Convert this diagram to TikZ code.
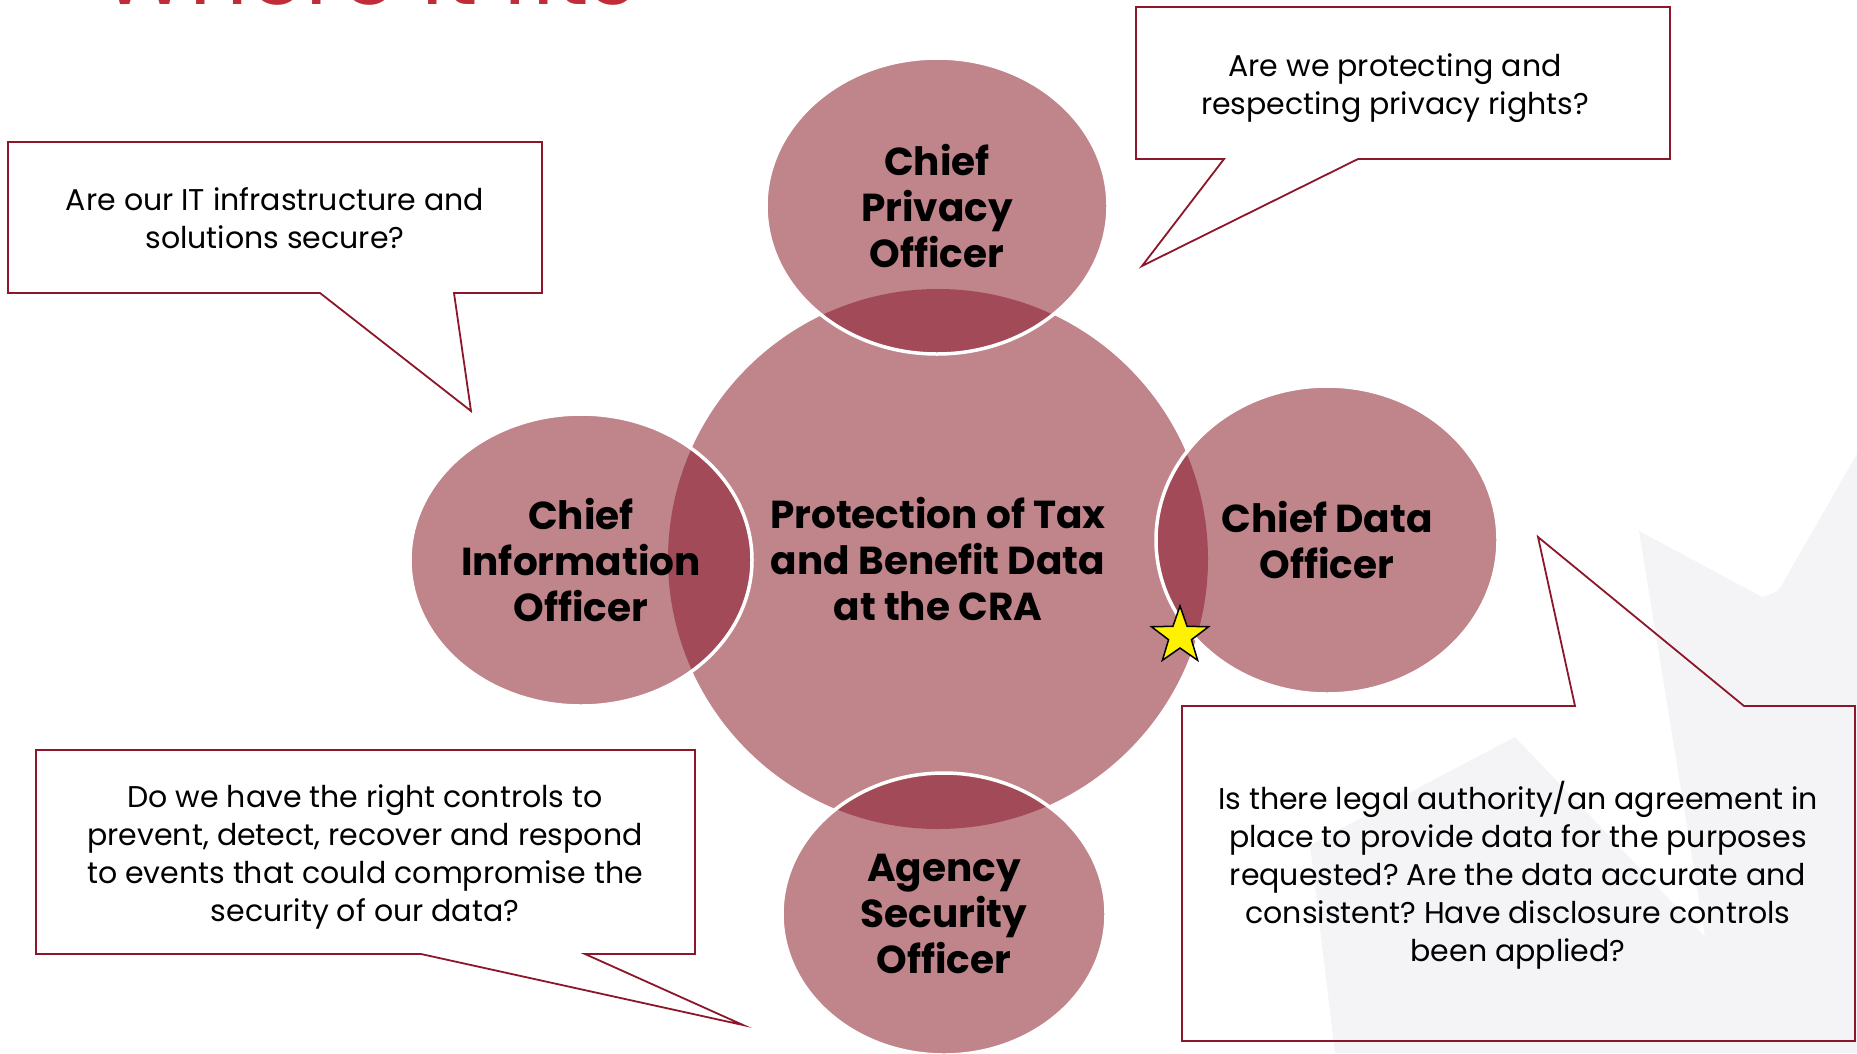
\documentclass[tikz,border=0pt]{standalone}
\usepackage{fontspec}
\setmainfont{Poppins}
\frenchspacing
\usetikzlibrary{shapes.geometric, positioning}

\definecolor{rose}{RGB}{192,132,139}
\definecolor{overlap}{RGB}{162,74,87}
\definecolor{crimson}{RGB}{140,22,42}
\definecolor{titlered}{RGB}{192,44,56}
\definecolor{leafgrey}{RGB}{244,244,247}

\tikzset{
    hub/.style={circle, fill=rose, minimum size=540pt, inner sep=0pt, align=center,
        font=\fontsize{39}{46}\selectfont\bfseries},
    role/.style={ellipse, fill=rose, draw=white, line width=3.5pt, inner sep=0pt, align=center,
        font=\fontsize{39}{46}\selectfont\bfseries,
        path picture={\fill[overlap] (cra.center) circle [radius=270];}},
    flag/.style={star, star points=5, star point ratio=2.5, minimum size=60pt, inner sep=0pt,
        fill=yellow, draw=black, line width=1.5pt},
    callout/.style={draw=crimson, line width=1.8pt},
    question/.style={align=center, inner sep=0pt, font=\fontsize{30}{38}\selectfont},
}

\begin{document}
\begin{tikzpicture}[x=1pt, y=-1pt]
    \path[use as bounding box, fill=white] (0,0) rectangle (1857,1053);

    % faint maple leaf behind the right hand side
    \fill[leafgrey] (1857,454) -- (1780,588) to[out=-135, in=15] (1762,597)
        -- (1639,531) -- (1705,937) -- (1515,737) -- (1310,845) -- (1335,1053)
        -- (1857,1053) -- cycle;

    \node[anchor=base west, inner sep=0pt, text=titlered,
          font=\fontsize{92}{92}\selectfont] (heading) at (100,4) {Where it fits};

    % the data in the middle and the four officers round it
    \node[hub] (cra) at (938,559) {Protection of Tax\\and Benefit Data\\at the CRA};
    \node[role, minimum width=342pt, minimum height=296pt] (cpo) at (937,206) {Chief\\Privacy\\Officer};
    \node[role, minimum width=342pt, minimum height=292pt] (cio) at (581,560) {Chief\\Information\\Officer};
    \node[role, minimum width=342pt, minimum height=308pt] (cdo) at (1327,540) {Chief Data\\Officer};
    \node[role, minimum width=324pt, minimum height=282pt] (aso) at (944,914) {Agency\\Security\\Officer};

    \node[flag] (mark) at (1180,636) {};

    % speech bubbles
    \draw[callout] (8,142) -- (542,142) -- (542,293) -- (454,293) -- (471,411)
        -- (320,293) -- (8,293) -- cycle;
    \node[question] (q-cio) at (275,218) {Are our IT infrastructure and\\solutions secure?};

    \draw[callout] (1136,7) -- (1670,7) -- (1670,159) -- (1358,159) -- (1142,266)
        -- (1224,159) -- (1136,159) -- cycle;
    \node[question] (q-cpo) at (1395,88) {Are we protecting and\\respecting privacy rights?};

    \draw[callout] (36,750) -- (695,750) -- (695,954) -- (585,954) -- (743,1025)
        -- (421,954) -- (36,954) -- cycle;
    \node[question] (q-aso) at (365,857) {Do we have the right controls to\\prevent, detect, recover and respond\\to events that could compromise the\\security of our data?};

    \draw[callout] (1182,706) -- (1575,706) -- (1538,537) -- (1744,706) -- (1855,706)
        -- (1855,1041) -- (1182,1041) -- cycle;
    \node[question] (q-cdo) at (1518,875) {Is there legal authority/an agreement in\\place to provide data for the purposes\\requested? Are the data accurate and\\consistent? Have disclosure controls\\been applied?};
\end{tikzpicture}
\end{document}
